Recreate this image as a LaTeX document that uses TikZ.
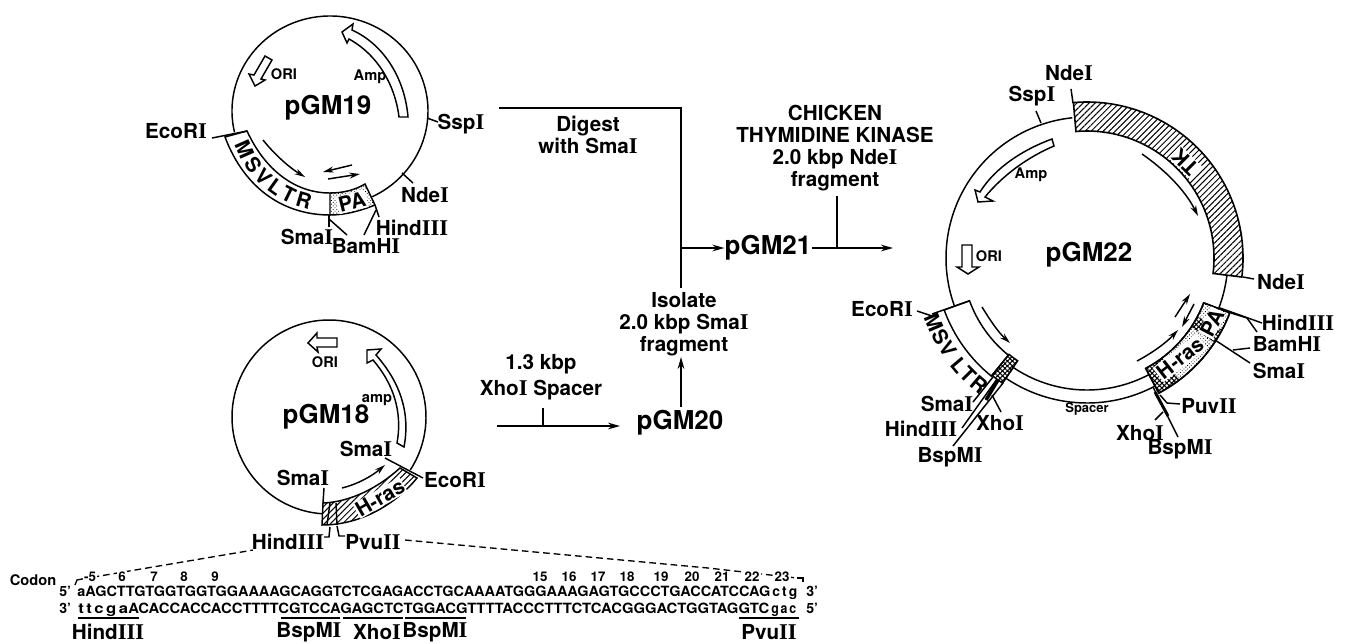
\documentclass[tikz,border=0pt]{standalone}
\usepackage{fontspec}
\usepackage{graphicx}
\setmainfont{TeX Gyre Heros}
\newfontfamily\slabfam{Liberation Serif}[Scale=1.09]
\usetikzlibrary{arrows.meta,patterns,patterns.meta,decorations.text,calc}
\newcommand{\sI}{{\slabfam\bfseries I}}
\newcommand{\lblfont}{\fontsize{15.5}{16.5}\selectfont\bfseries}
\newcommand{\bigfont}{\fontsize{19.5}{21}\selectfont\bfseries}
\newcommand{\smfont}{\fontsize{11}{12}\selectfont\bfseries}
\newcommand{\seqfont}{\fontsize{10.6}{12}\selectfont\bfseries}
\newcommand{\lc}[1]{{\addfontfeature{LetterSpace=15}#1}}
\newcommand{\fit}[2]{\resizebox{#1}{\height}{#2}}
\tikzset{
  lbl/.style={inner sep=0pt,font=\lblfont,align=center},
  plasmid/.style={inner sep=0pt,font=\bigfont},
  small/.style={inner sep=0pt,font=\smfont},
  seq/.style={inner sep=0pt,font=\seqfont,anchor=base west},
  num/.style={inner sep=1pt,fill=white,font=\fontsize{10}{12}\selectfont\bfseries},
  line/.style={line width=1.1pt},
  proc/.style={line width=1.2pt},
  flow/.style={line width=1.2pt,-{Stealth[length=9pt,width=5pt]}},
  thin arrow/.style={line width=1.1pt,-{Stealth[length=8pt,width=4.5pt]}},
  hollow/.style={line width=1.1pt,fill=white,line join=miter},
  dash line/.style={line width=1pt,dash pattern=on 5pt off 3pt},
  ul/.style={line width=1.2pt},
  hatch/.style={pattern={Lines[angle=45,distance=3.2pt,line width=.75pt]}},
  cross/.style={pattern={Hatch[angle=45,distance=2.6pt,line width=.8pt]}},
  stipple/.style={pattern={Dots[radius=.45pt,distance=1.9pt,angle=45]}}
}
% \sect{style}{center}{a1}{a2}{r1}{r2}
\newcommand{\sect}[6]{\path[#1] ([shift={(#3:#6)}]#2) arc[start angle=#3,end angle=#4,radius=#6] -- ([shift={(#4:#5)}]#2) arc[start angle=#4,end angle=#3,radius=#5] -- cycle;}
% leader: \ldr{name}{x1,y1}{x2,y2}
\newcommand{\ldr}[3]{\coordinate (#1a) at (#2); \coordinate (#1b) at (#3); \draw[line] (#1a) -- (#1b);}
\begin{document}
\begin{tikzpicture}[x=0.75pt,y=0.75pt]
\useasboundingbox (0,-643) rectangle (1345,0);
%%%%% pGM19
\coordinate (c19) at (330,-111);
\draw[line] ([shift={(193:98 and 95)}]c19) arc[start angle=193,end angle=-64.5,x radius=98,y radius=95];
\coordinate (m1) at (247,-131); \coordinate (m2) at (225,-137);
\coordinate (m3) at (330,-215); \coordinate (m4) at (330,-193);
\coordinate (p1) at (365,-184); \coordinate (p2) at (375,-205);
\fill[stipple] (m4) .. controls (343,-193) and (355,-190) .. (p1) -- (p2) .. controls (360,-211) and (345,-215) .. (m3) -- cycle;
\draw[line,fill=white] (m1) .. controls (265,-170) and (295,-193) .. (m4) -- (m3) .. controls (285,-215) and (245,-190) .. (m2) -- cycle;
\draw[line] (m4) .. controls (343,-193) and (355,-190) .. (p1) -- (p2) .. controls (360,-211) and (345,-215) .. (m3);
\path[postaction={decorate,decoration={text along path,text align=fit to path,text={|\lblfont|MSVLTR}}}] ([shift={(199:101)}]c19) arc[start angle=199,end angle=258,radius=101];
\node[lbl,fill=white,inner sep=1pt,rotate=14] (pa19) at (352,-202) {PA};
\node[plasmid] (n19) at (328,-108) {pGM19};
\node[small] (ori19) at (284,-74) {ORI};
\node[small] (amp19) at (370,-77) {Amp};
\draw[hollow] (342,-32) -- (353,-24) -- (352,-30) .. controls (385,-45) and (405,-80) .. (408,-117) -- (399,-117) .. controls (395,-85) and (378,-55) .. (349,-39) -- (347,-43) -- cycle;
\draw[hollow] (255,-86) -- (249,-74) -- (254,-75) -- (265,-56) -- (272,-60) -- (261,-79) -- (265,-80) -- cycle;
\draw[thin arrow] (263,-140) .. controls (275,-155) and (290,-168) .. (305,-177);
\draw[thin arrow] (352,-165) -- (323,-172);
\draw[thin arrow] (328,-179) -- (360,-174);
\node[lbl] (eco19) at (176,-131) {EcoR\sI};
\node[lbl] (ssp19) at (461,-124) {Ssp\sI};
\node[lbl] (nde19) at (425,-195) {Nde\sI};
\node[lbl] (hin19) at (412,-228) {Hind\sI\sI\sI};
\node[lbl] (bam19) at (366,-246) {BamH\sI};
\node[lbl] (sma19) at (307,-237) {Sma\sI};
\ldr{a1}{212,-138}{247,-131}
\ldr{a2}{427,-118}{438,-122}
\ldr{a3}{402,-173}{413,-183}
\ldr{a4}{329,-215}{329,-227}
\ldr{a5}{329,-219}{347,-235}
\ldr{a6}{376,-210}{364,-235}
\ldr{a7}{375,-205}{379,-217}
%%%%% pGM18
\coordinate (c18) at (329,-417);
\draw[line] ([shift={(266:97)}]c18) arc[start angle=266,end angle=-33,radius=97];
\coordinate (r1) at (323,-503); \coordinate (r2) at (322,-525);
\coordinate (r3) at (417,-478); \coordinate (r4) at (400,-468);
\filldraw[line,fill=white] (r1) .. controls (350,-502) and (378,-488) .. (r4) -- (r3) .. controls (395,-505) and (360,-525) .. (r2) -- cycle;
\fill[hatch] (r1) .. controls (350,-502) and (378,-488) .. (r4) -- (r3) .. controls (395,-505) and (360,-525) .. (r2) -- cycle;
\draw[line] (330,-503) -- (327,-525) (336,-503) -- (337,-525);
\node[lbl,fill=white,inner sep=0.5pt,rotate=30] (ras18) at (380,-498) {H-ras};
\node[plasmid] (n18) at (326,-417) {pGM18};
\node[small] (ori18) at (325,-362) {ORI};
\node[small] (amp18) at (377,-400) {amp};
\draw[hollow] (367,-350) -- (381,-349) -- (376,-355) .. controls (398,-380) and (411,-410) .. (404,-447) -- (397,-443) .. controls (403,-410) and (392,-382) .. (373,-360) -- (367,-363) -- cycle;
\draw[hollow] (308,-343) -- (317,-333) -- (317,-338) -- (337,-338) -- (337,-347) -- (317,-347) -- (318,-352) -- cycle;
\draw[thin arrow] (342,-488) .. controls (358,-484) and (372,-476) .. (385,-465);
\node[lbl] (sml18) at (303,-478) {Sma\sI};
\node[lbl] (smr18) at (366,-449) {Sma\sI};
\node[lbl] (eco18) at (455,-480) {EcoR\sI};
\node[lbl] (hin18) at (288,-542) {Hind\sI\sI\sI};
\node[lbl] (pvu18) at (373,-542) {Pvu\sI\sI};
\ldr{b1}{324,-488}{323,-503}
\ldr{b2}{385,-458}{423,-478}
\coordinate (b3a) at (330,-527); \coordinate (b3b) at (329,-537); \coordinate (b3c) at (324,-537);
\draw[line] (b3a) -- (b3b) -- (b3c);
\coordinate (b4a) at (337,-526); \coordinate (b4b) at (339,-536); \coordinate (b4c) at (345,-536);
\draw[line] (b4a) -- (b4b) -- (b4c);
%%%%% process
\node[plasmid] (n21) at (768,-248) {pGM21};
\node[plasmid] (n20) at (680,-423) {pGM20};
\node[lbl] (digest) at (588,-135) {Digest\\with Sma\sI};
\node[lbl] (isolate) at (684,-324) {Isolate\\2.0 kbp Sma\sI\\fragment};
\node[lbl] (chick) at (835,-148) {CHICKEN\\THYMIDINE KINASE\\2.0 kbp Nde\sI\\fragment};
\node[lbl] (spacer) at (541,-377.5) {1.3 kbp\\[3pt]Xho\sI{} Spacer};
\coordinate (s1) at (499,-108); \coordinate (s2) at (681,-108); \coordinate (s3) at (681,-288); \coordinate (s4) at (681,-248);
\draw[proc] (s1) -- (s2) -- (s3);
\draw[flow] (s4) -- (n21.west);
\coordinate (t1) at (893,-248); \coordinate (t2) at (837,-248); \coordinate (t3) at (837,-196);
\draw[flow] (n21.east) -- (t1);
\draw[proc] (t3) -- (t2);
\coordinate (u1) at (497,-426); \coordinate (u2) at (620,-426); \coordinate (u3) at (543,-408); \coordinate (u4) at (543,-426);
\draw[flow] (u1) -- (u2);
\draw[proc] (u3) -- (u4);
\coordinate (v1) at (681,-407); \coordinate (v2) at (681,-357);
\draw[flow] (v1) -- (v2);
%%%%% pGM22
\coordinate (c22) at (1087,-258);
\draw[line] ([shift={(200:141)}]c22) arc[start angle=200,end angle=96,radius=141];
\draw[line] ([shift={(-7:141)}]c22) arc[start angle=-7,end angle=-21,radius=141];
% TK band
\sect{fill=white,draw,line width=1.2pt}{c22}{95}{-7}{127}{156}
\sect{hatch}{c22}{95}{-7}{127}{156}
\node[lbl,fill=white,inner sep=1pt,rotate=135] (tk) at (1185,-162) {TK};
% MSV band
\sect{fill=white,draw,line width=1.1pt}{c22}{200}{231}{125}{152}
\sect{fill=white,draw,line width=1.1pt}{c22}{236}{298}{132}{145}
\sect{draw,line width=1.1pt,cross}{c22}{231}{236}{124}{151}
% H-ras / PA band
\sect{fill=white,draw,line width=1.1pt}{c22}{298}{339}{125}{153}
\sect{cross}{c22}{298}{307}{125}{153}
\sect{stipple}{c22}{307}{326.5}{125}{153}
\sect{cross}{c22}{326.5}{332}{125}{153}
\sect{stipple}{c22}{332}{339}{125}{153}
\sect{draw,line width=1.1pt}{c22}{298}{339}{125}{153}
\node[lbl,fill=white,inner sep=1pt,rotate=38] (ras22) at (1180,-358) {H-ras};
\node[lbl,fill=white,inner sep=.5pt,rotate=62] (pa22) at (1212,-323) {PA};
\path[postaction={decorate,decoration={text along path,text align=fit to path,text={|\lblfont|MSV LTR}}}] ([shift={(200:174)}]c22) arc[start angle=200,end angle=232,radius=174];
\node[plasmid] (n22) at (1089,-255) {pGM22};
\node[small] (ori22) at (989,-256) {ORI};
\node[small] (amp22) at (1031,-175) {Amp};
\node[inner sep=0pt,font=\fontsize{9.75}{11}\selectfont\bfseries] (spc22) at (1087,-409) {Spacer};
\draw[hollow] (978,-202) -- (975,-190) -- (980,-192) .. controls (995,-168) and (1022,-150) .. (1052,-139) -- (1054,-146) .. controls (1028,-157) and (1003,-175) .. (985,-197) -- (993,-201) -- cycle;
\draw[hollow] (968,-274) -- (957,-267) -- (962,-267) -- (962,-245) -- (972,-245) -- (972,-267) -- (979,-267) -- cycle;
\draw[thin arrow] (1142,-154) .. controls (1165,-170) and (1185,-190) .. (1198,-216);
\draw[thin arrow] (982,-307) .. controls (990,-320) and (998,-332) .. (1010,-343);
\draw[thin arrow] (1175,-317) -- (1190,-294);
\draw[thin arrow] (1194,-304) -- (1182,-327);
\draw[thin arrow] (1137,-361) .. controls (1152,-353) and (1166,-343) .. (1178,-330);
\node[lbl] (ssp22) at (1032,-96) {Ssp\sI};
\node[lbl] (ndt22) at (1069,-73) {Nde\sI};
\node[lbl] (ndr22) at (1281,-282) {Nde\sI};
\node[lbl] (hin22) at (1298,-323) {Hind\sI\sI\sI};
\node[lbl] (bam22) at (1287,-344) {BamH\sI};
\node[lbl] (sma22) at (1279,-371) {Sma\sI};
\node[lbl] (puv22) at (1209,-406) {Puv\sI\sI};
\node[lbl] (xho22) at (1140,-433) {Xho\sI};
\node[lbl] (bsp22) at (1180,-449) {BspM\sI};
\node[lbl] (eco22) at (882,-309) {EcoR\sI};
\node[lbl] (sml22) at (947,-404) {Sma\sI};
\node[lbl] (hnl22) at (921,-429) {Hind\sI\sI\sI};
\node[lbl] (bsl22) at (950,-457) {BspM\sI};
\node[lbl] (xhl22) at (1000,-423) {Xho\sI};
\ldr{d1}{1036,-111}{1041,-123}
\ldr{d2}{1071,-89}{1073,-103}
\ldr{d3}{1243,-277}{1254,-279}
\ldr{d4}{1220,-308}{1262,-323}
\coordinate (d5a) at (1231,-313); \coordinate (d5b) at (1247,-318); \coordinate (d5c) at (1257,-332);
\draw[line] (d5a) -- (d5b) -- (d5c);
\ldr{d6}{1215,-340}{1250,-363}
\ldr{d7}{1233,-350}{1250,-348}
\coordinate (d8a) at (1160,-395); \coordinate (d8b) at (1167,-403); \coordinate (d8c) at (1180,-404);
\draw[line] (d8a) -- (d8b) -- (d8c);
\ldr{d9}{1155,-420}{1163,-412}
\coordinate (d10a) at (1153,-387); \coordinate (d10b) at (1178,-437);
\draw[line] (d10a) -- (d10b);
\coordinate (d11a) at (1155,-392); \coordinate (d11b) at (1168,-416);
\draw[line width=2.2pt] (d11a) -- (d11b);
\ldr{d12}{917,-311}{932,-316}
\ldr{d13}{932,-314}{969,-301}
\ldr{d14}{993,-377}{973,-402}
\ldr{d15}{997,-379}{962,-428}
\ldr{d16}{1003,-383}{953,-446}
\ldr{d17}{992,-395}{1001,-412}
\coordinate (d18a) at (998,-380); \coordinate (d18b) at (986,-400);
\draw[line width=2.6pt] (d18a) -- (d18b);
%%%%% sequence
\node[inner sep=0pt,font=\fontsize{11}{12}\selectfont\bfseries] (codon) at (33,-580) {Codon};
\coordinate (q1) at (75,-585); \coordinate (q2) at (77,-580); \coordinate (q3) at (82,-579);
\coordinate (q4) at (253,-548);
\draw[line width=1pt] (q1) -- (q2) -- (q3);
\draw[dash line] (q3) -- (hin18.south west -| q4);
\coordinate (q5) at (405,-540); \coordinate (q6) at (708,-568); \coordinate (q7) at (797,-578);
\coordinate (q8) at (803,-578); \coordinate (q9) at (803,-582);
\draw[dash line] (q5) -- (q6) -- (q7);
\draw[line width=1pt] (q7) -- (q8) -- (q9);
\node[num] (k1) at (90,-577) {-5};
\node[num] (k2) at (122,-577) {6};
\node[num] (k3) at (154,-577) {7};
\node[num] (k4) at (184,-577) {8};
\node[num] (k5) at (215,-577) {9};
\node[num] (k6) at (540,-577) {15};
\node[num] (k7) at (569,-577) {16};
\node[num] (k8) at (598,-577) {17};
\node[num] (k9) at (627,-577) {18};
\node[num] (k10) at (661,-577) {19};
\node[num] (k11) at (692,-577) {20};
\node[num] (k12) at (722,-577) {21};
\node[num] (k13) at (752,-577) {22};
\node[num] (k14) at (782,-577) {23};
\node[seq] (five1) at (59,-596) {5'};
\node[seq] (row1) at (77,-596) {\fit{519.75pt}{aAGCTTGTGGTGGTGGAAAAGCAGGTCTCGAGACCTGCAAAATGGGAAAGAGTGCCCTGACCATCCAG}\hspace{1.5pt}\fit{18.75pt}{\lc{ctg}}};
\node[seq] (three1) at (806,-596) {3'};
\node[seq] (three2) at (59,-613) {3'};
\node[seq] (row2) at (78,-613) {\fit{37.5pt}{\lc{ttcga}}\fit{480.75pt}{ACACCACCACCTTTTCGTCCAGAGCTCTGGACGTTTTACCCTTTCTCACGGGACTGGTAGGTC}\hspace{1.5pt}\fit{18.75pt}{\lc{gac}}};
\node[seq] (five2) at (806,-613) {5'};
\coordinate (w1) at (78,-618); \coordinate (w2) at (139,-618);
\coordinate (w3) at (281,-618); \coordinate (w4) at (340,-618);
\coordinate (w5) at (343,-618); \coordinate (w6) at (403,-618);
\coordinate (w7) at (405,-618); \coordinate (w8) at (466,-618);
\coordinate (w9) at (739,-618); \coordinate (w10) at (799,-618);
\draw[ul] (w1) -- (w2); \draw[ul] (w3) -- (w4); \draw[ul] (w5) -- (w6); \draw[ul] (w7) -- (w8); \draw[ul] (w9) -- (w10);
\node[lbl] (s1l) at (108,-632) {Hind\sI\sI\sI};
\node[lbl] (s2l) at (309,-632) {BspM\sI};
\node[lbl] (s3l) at (377,-632) {Xho\sI};
\node[lbl] (s4l) at (435,-632) {BspM\sI};
\node[lbl] (s5l) at (769,-632) {Pvu\sI\sI};
\end{tikzpicture}
\end{document}
